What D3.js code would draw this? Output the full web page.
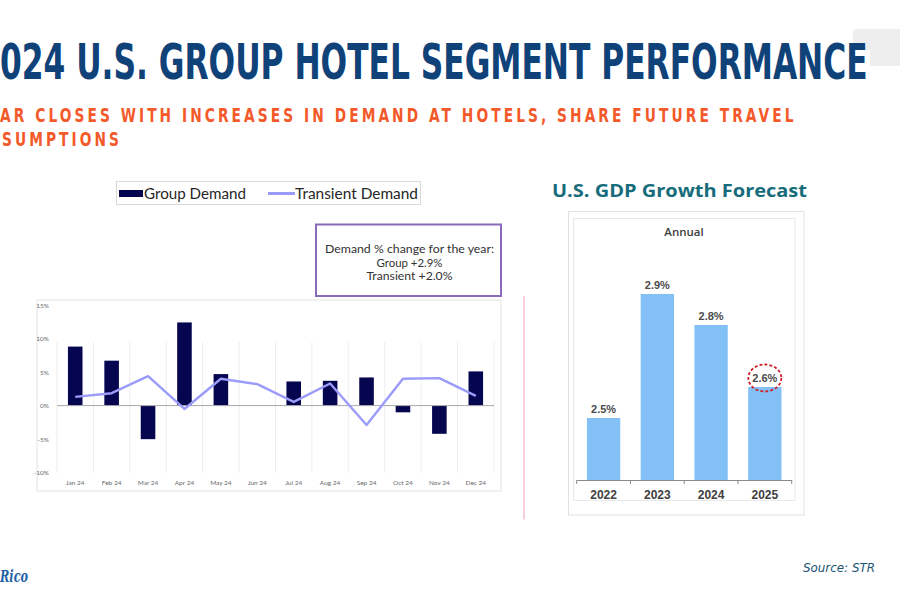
<!DOCTYPE html>
<html><head><meta charset="utf-8">
<script src="https://cdn.jsdelivr.net/npm/d3@7"></script>
<style>html,body{margin:0;padding:0;background:#fff;overflow:hidden}</style>
</head><body><svg id="c" width="900" height="600"></svg>
<script>
// ---------- DATA ----------
const titleText = "024 U.S. GROUP HOTEL SEGMENT PERFORMANCE";
const subtitleLines = ["AR CLOSES WITH INCREASES IN DEMAND AT HOTELS, SHARE FUTURE TRAVEL", "SUMPTIONS"];
const months = ["Jan 24","Feb 24","Mar 24","Apr 24","May 24","Jun 24","Jul 24","Aug 24","Sep 24","Oct 24","Nov 24","Dec 24"];
const groupDemand = [8.8, 6.7, -5.0, 12.4, 4.7, 0, 3.6, 3.7, 4.2, -1.0, -4.2, 5.1];
const transientDemand = [1.3, 1.85, 4.4, -0.5, 4.0, 3.2, 0.55, 3.3, -2.9, 4.0, 4.1, 1.45];
const demandTicks = [15, 10, 5, 0, -5, -10];
const seriesNames = ["Group Demand", "Transient Demand"];
const annotationLines = ["Demand % change for the year:", "Group +2.9%", "Transient +2.0%"];
const gdpTitle = "U.S. GDP Growth Forecast";
const gdpSubtitle = "Annual";
const gdpYears = ["2022", "2023", "2024", "2025"];
const gdpValues = [2.5, 2.9, 2.8, 2.6];
const gdpHighlight = "2025";
const sourceText = "Source: STR";
const logoText = "Rico";

// ---------- STYLE ----------
const navy = "#10427a", orange = "#f4592a", teal = "#176c7c";
const groupColor = "#05064f", transColor = "#9b9bfa", gdpColor = "#82c0f6";
const svg = d3.select("#c");

function fitText(sel, width) {
  const w = sel.node().getComputedTextLength();
  return width / w;
}

// faded background decoration (top right)
svg.append("rect").attr("x", 853).attr("y", 29).attr("width", 60).attr("height", 21).attr("rx", 4).attr("fill", "#eeeeee");
svg.append("rect").attr("x", 870).attr("y", 48).attr("width", 40).attr("height", 18).attr("fill", "#eeeeee");

// ---------- TITLE ----------
const t = svg.append("text").attr("x", 0).attr("y", 0)
  .attr("font-family", "DejaVu Sans Condensed, DejaVu Sans").attr("font-weight", "bold")
  .attr("font-size", 49.5).attr("fill", navy).text(titleText);
const ts = fitText(t, 868);
t.attr("transform", `translate(0,78.5) scale(${ts},1)`);

const subs = subtitleLines.map((s, i) => svg.append("text").attr("x", 0).attr("y", 0)
  .attr("font-family", "DejaVu Sans Condensed, DejaVu Sans").attr("font-weight", "bold")
  .attr("font-size", 20).attr("letter-spacing", 4).attr("fill", orange).text(s));
const ss = fitText(subs[0], 797);
subs[0].attr("transform", `translate(0,122.3) scale(${ss},1)`);
subs[1].attr("transform", `translate(2,145.6) scale(${ss},1)`);

// ---------- LEFT CHART ----------
svg.append("rect").attr("x", 37).attr("y", 300).attr("width", 464).attr("height", 191)
  .attr("fill", "none").attr("stroke", "#e3e3e3");

const x = d3.scaleBand().domain(months).range([57, 494]).padding(0);
const y = d3.scaleLinear().domain([-10, 15]).range([472.7, 305]);
const bw = x.bandwidth();

const edges = months.map(m => x(m)).concat([x.range()[1]]);
svg.append("g").selectAll("line").data(edges).join("line")
  .attr("x1", d => d).attr("x2", d => d).attr("y1", y(9.5)).attr("y2", y(-10))
  .attr("stroke", "#eeeeee").attr("stroke-width", 1);

const ya = svg.append("g").attr("transform", "translate(52,0)")
  .call(d3.axisLeft(y).tickValues(demandTicks).tickFormat(d => d + "%").tickSize(0));
ya.select(".domain").remove();
ya.selectAll("text").attr("font-family", "Lato, sans-serif").attr("font-size", 6.5).attr("fill", "#6a6a6a");

const xa = svg.append("g").attr("transform", "translate(0,477)")
  .call(d3.axisBottom(x).tickSize(0));
xa.select(".domain").remove();
xa.selectAll("text").attr("font-family", "Lato, sans-serif").attr("font-size", 6.5).attr("fill", "#6a6a6a");

svg.append("g").selectAll("rect").data(groupDemand).join("rect")
  .attr("x", (d, i) => x(months[i]) + bw * 0.3).attr("width", bw * 0.4)
  .attr("y", d => y(Math.max(0, d))).attr("height", d => Math.abs(y(d) - y(0)))
  .attr("fill", groupColor);

svg.append("line").attr("x1", 57).attr("x2", 494).attr("y1", y(0)).attr("y2", y(0))
  .attr("stroke", "#a8a8a8").attr("stroke-width", 1);

svg.append("path").datum(transientDemand)
  .attr("d", d3.line().x((d, i) => x(months[i]) + bw / 2).y(d => y(d)))
  .attr("fill", "none").attr("stroke", transColor).attr("stroke-width", 2.4).attr("stroke-linejoin", "round");

// legend
svg.append("rect").attr("x", 116.5).attr("y", 181.5).attr("width", 304).attr("height", 23)
  .attr("fill", "#fff").attr("stroke", "#d9d9d9");
svg.append("rect").attr("x", 119).attr("y", 190).attr("width", 24).attr("height", 7).attr("fill", groupColor);
svg.append("text").attr("x", 144).attr("y", 198.5).attr("font-family", "Lato, sans-serif").attr("font-size", 14.5)
  .attr("fill", "#262626").attr("textLength", 102).attr("lengthAdjust", "spacingAndGlyphs").text(seriesNames[0]);
svg.append("line").attr("x1", 268).attr("x2", 295).attr("y1", 193.5).attr("y2", 193.5)
  .attr("stroke", transColor).attr("stroke-width", 3);
svg.append("text").attr("x", 295).attr("y", 198.5).attr("font-family", "Lato, sans-serif").attr("font-size", 14.5)
  .attr("fill", "#262626").attr("textLength", 123).attr("lengthAdjust", "spacingAndGlyphs").text(seriesNames[1]);

// annotation box
svg.append("rect").attr("x", 316).attr("y", 224.5).attr("width", 185).attr("height", 71.5)
  .attr("fill", "#fff").attr("stroke", "#8a6bb8").attr("stroke-width", 2);
const annW = [169, 66, 86];
annotationLines.forEach((s, i) => {
  svg.append("text").attr("x", 409.5).attr("y", 253 + i * 13.7).attr("text-anchor", "middle")
    .attr("font-family", "Lato, sans-serif").attr("font-size", 11).attr("fill", "#333")
    .attr("textLength", annW[i]).attr("lengthAdjust", "spacingAndGlyphs").text(s);
});

// separator
svg.append("line").attr("x1", 524).attr("x2", 524).attr("y1", 296).attr("y2", 519.5)
  .attr("stroke", "#f2bfd2").attr("stroke-width", 1.5);

// ---------- RIGHT CHART ----------
svg.append("text").attr("x", 552).attr("y", 196.7).attr("font-family", "Open Sans, sans-serif")
  .attr("font-weight", "bold").attr("font-size", 18.5).attr("fill", teal)
  .attr("textLength", 255).attr("lengthAdjust", "spacingAndGlyphs").text(gdpTitle);

svg.append("rect").attr("x", 568.5).attr("y", 211.5).attr("width", 235.5).attr("height", 303.5)
  .attr("fill", "none").attr("stroke", "#e2e2e2");
svg.append("rect").attr("x", 573.5).attr("y", 218.5).attr("width", 221.5).attr("height", 282)
  .attr("fill", "none").attr("stroke", "#e8e8e8");

svg.append("text").attr("x", 684).attr("y", 235.5).attr("text-anchor", "middle")
  .attr("font-family", "Open Sans, sans-serif").attr("font-weight", 600).attr("font-size", 11.5)
  .attr("fill", "#404040").text(gdpSubtitle);

const gx = d3.scaleBand().domain(gdpYears).range([576.7, 791.7]).padding(0);
const gy = d3.scaleLinear().domain([2.3, 2.9]).range([480, 294]);
const gbw = gx.bandwidth();

svg.append("g").selectAll("rect").data(gdpValues).join("rect")
  .attr("x", (d, i) => gx(gdpYears[i]) + gbw * 0.19).attr("width", gbw * 0.62)
  .attr("y", d => gy(d)).attr("height", d => gy.range()[0] - gy(d)).attr("fill", gdpColor);

svg.append("g").selectAll("text").data(gdpValues).join("text")
  .attr("x", (d, i) => gx(gdpYears[i]) + gbw / 2).attr("y", d => gy(d) - 5)
  .attr("text-anchor", "middle").attr("font-family", "Liberation Sans, Arial, sans-serif")
  .attr("font-weight", "bold").attr("font-size", 11).attr("fill", "#4a4a4a").text(d => d.toFixed(1) + "%");

const gxa = svg.append("g").attr("transform", "translate(0,480)")
  .call(d3.axisBottom(gx).tickSize(0).tickPadding(10));
gxa.select(".domain").attr("stroke", "#8a8a8a");
gxa.selectAll("text").attr("font-family", "Liberation Sans, Arial, sans-serif").attr("font-weight", "bold")
  .attr("font-size", 12).attr("fill", "#404040");
gxa.append("g").selectAll("line").data(gdpYears.map(d => gx(d)).concat([gx.range()[1]])).join("line")
  .attr("x1", d => d).attr("x2", d => d).attr("y1", 0).attr("y2", 4).attr("stroke", "#8a8a8a");

const hi = gdpYears.indexOf(gdpHighlight);
svg.append("ellipse").attr("cx", gx(gdpHighlight) + gbw / 2).attr("cy", gy(gdpValues[hi]) - 9)
  .attr("rx", 16.5).attr("ry", 13.5).attr("fill", "none").attr("stroke", "#d01f2a")
  .attr("stroke-width", 1.8).attr("stroke-dasharray", "3,2");

// ---------- FOOTER ----------
svg.append("text").attr("x", 0).attr("y", 582).attr("font-family", "DejaVu Serif")
  .attr("font-style", "italic").attr("font-weight", "bold").attr("font-size", 16)
  .attr("fill", "#1f62a6").attr("textLength", 28).attr("lengthAdjust", "spacingAndGlyphs").text(logoText);
svg.append("text").attr("x", 803).attr("y", 571.5).attr("font-family", "DejaVu Sans Condensed, DejaVu Sans")
  .attr("font-style", "italic").attr("font-size", 12).attr("fill", "#1d5375")
  .attr("textLength", 72).attr("lengthAdjust", "spacingAndGlyphs").text(sourceText);
</script></body></html>
